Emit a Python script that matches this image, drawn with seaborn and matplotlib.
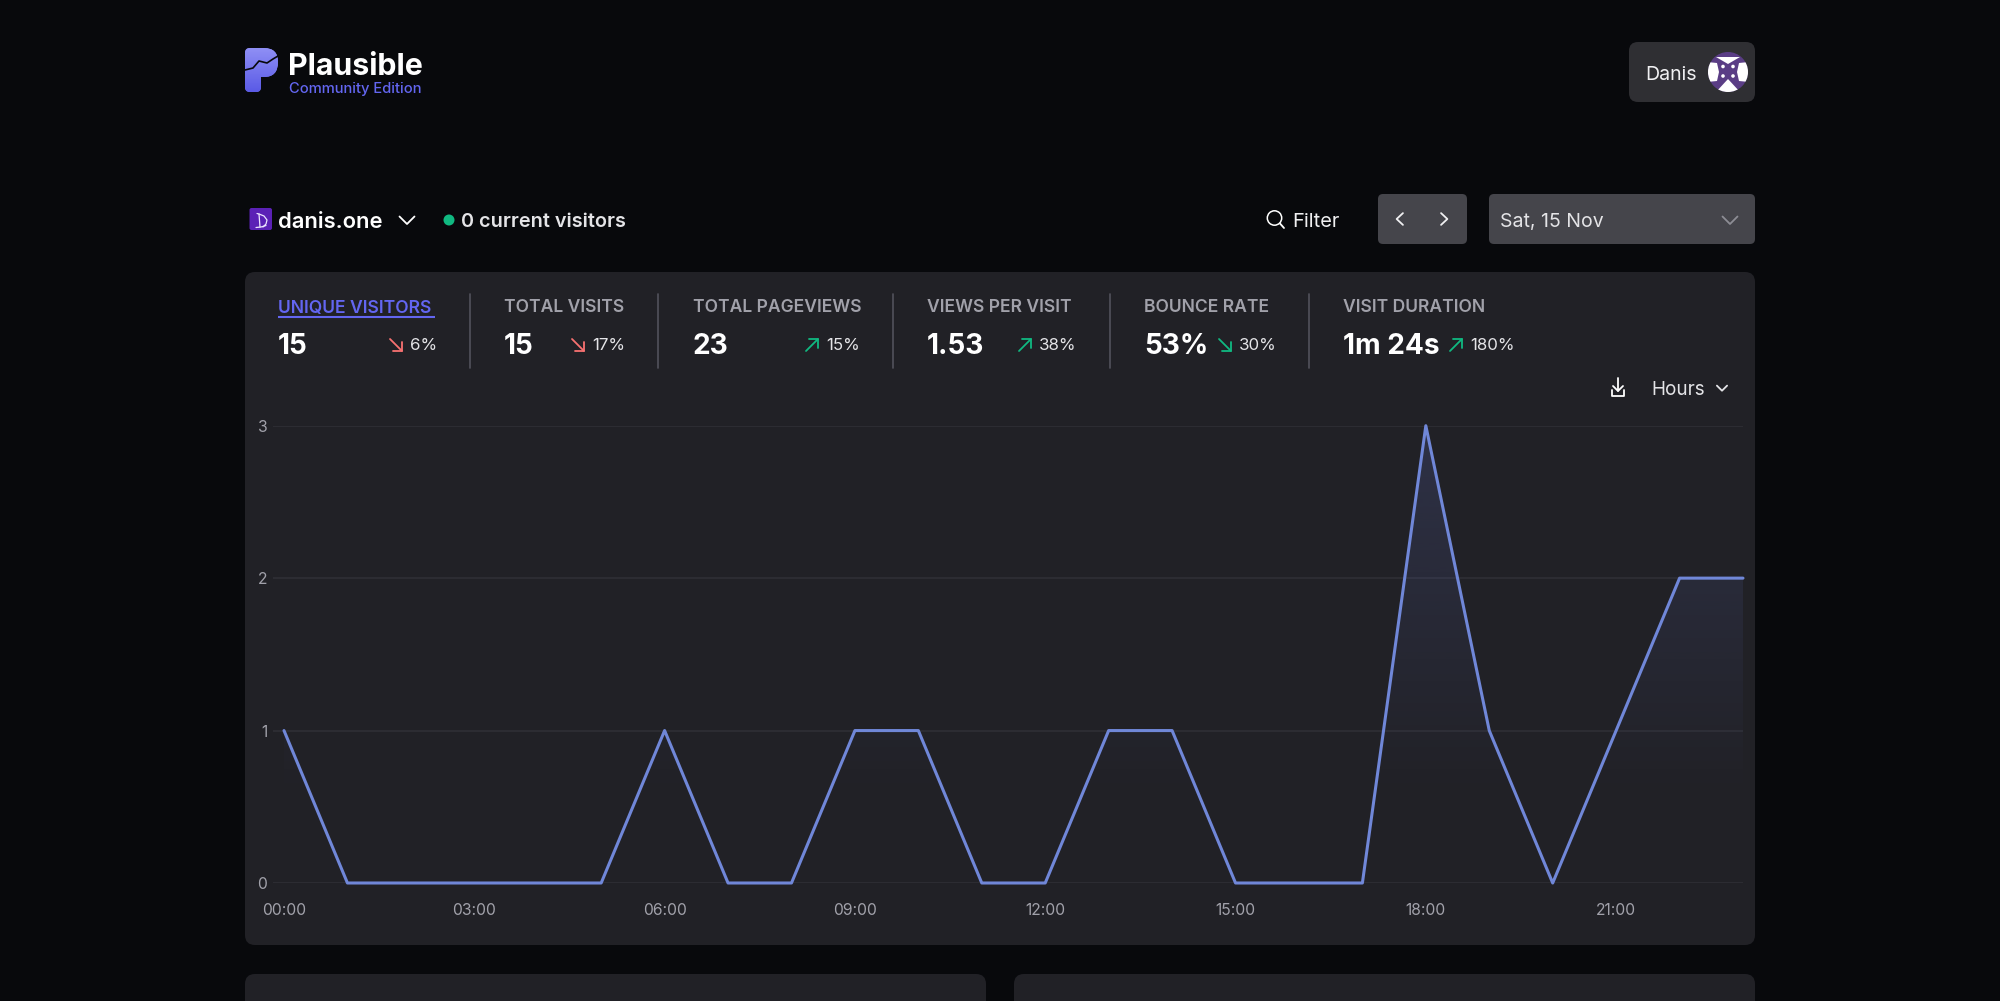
import matplotlib

matplotlib.use("Agg")
import matplotlib.pyplot as plt
import numpy as np
import pandas as pd
import seaborn as sns
from matplotlib.patches import Circle, FancyBboxPatch, PathPatch, Polygon
from matplotlib.path import Path

# chart values
hours = list(range(24))
visitors = [1, 0, 0, 0, 0, 0, 1, 0, 0, 1, 1, 0, 0, 1, 1, 0, 0, 0, 3, 1, 0, 1, 2, 2]
tick_hours = [0, 3, 6, 9, 12, 15, 18, 21]
tick_labels = ["00:00", "03:00", "06:00", "09:00", "12:00", "15:00", "18:00", "21:00"]
y_ticks = [0, 1, 2, 3]

# top stats row
stat_names = ["UNIQUE VISITORS", "TOTAL VISITS", "TOTAL PAGEVIEWS", "VIEWS PER VISIT", "BOUNCE RATE", "VISIT DURATION"]
stat_values = ["15", "15", "23", "1.53", "53%", "1m 24s"]
stat_changes = ["6%", "17%", "15%", "38%", "30%", "180%"]
stat_up = [False, False, True, True, False, True]
stat_good = [False, False, True, True, True, True]
stat_x = [278, 504, 693, 927, 1144, 1343]
stat_pct_x = [410, 592, 826, 1039, 1239, 1470]
dividers = [469.5, 658, 893, 1109.5, 1309]

BG = "#08090c"
PANEL = "#212126"
BOX = "#45454b"
LINE = "#7087d8"
GRID = "#303036"
GREY = "#a1a1aa"
INDIGO = "#6366f1"
GREEN = "#10b981"
RED = "#f87171"

sns.set_theme(style="dark")
plt.rcParams["font.family"] = ["Inter", "DejaVu Sans"]

fig = plt.figure(figsize=(20, 10.01), dpi=100, facecolor=BG)

# page layer in pixel coordinates
page = fig.add_axes([0, 0, 1, 1])
page.set_xlim(0, 2000)
page.set_ylim(1001, 0)
page.axis("off")


def box(x0, y0, x1, y1, color, r=8):
    page.add_patch(
        FancyBboxPatch(
            (x0 + r, y0 + r),
            x1 - x0 - 2 * r,
            y1 - y0 - 2 * r,
            boxstyle=f"round,pad={r},rounding_size={r}",
            fc=color,
            ec="none",
        )
    )


def label(x, y, s, size, color="white", weight="normal", ha="left"):
    page.text(x, y, s, fontsize=size, color=color, fontweight=weight, ha=ha, va="center_baseline")


def stroke(xs, ys, color="white", lw=1.3):
    page.plot(xs, ys, color=color, lw=lw, solid_capstyle="round", solid_joinstyle="round", zorder=6)


def chevron(x, y, direction, color="white", s=5, lw=1.3):
    if direction == "down":
        stroke([x - s * 1.5, x, x + s * 1.5], [y - s * 0.7, y + s * 0.8, y - s * 0.7], color, lw)
    elif direction == "left":
        stroke([x + s * 0.7, x - s * 0.8, x + s * 0.7], [y - s * 1.4, y, y + s * 1.4], color, lw)
    else:
        stroke([x - s * 0.7, x + s * 0.8, x - s * 0.7], [y - s * 1.4, y, y + s * 1.4], color, lw)


def arrow(x, y, up, color):
    # x, y is the centre of a small diagonal arrow
    s = 6
    if up:
        stroke([x - s, x + s], [y + s, y - s], color)
        stroke([x - s + 3, x + s, x + s], [y - s, y - s, y + s - 3], color)
    else:
        stroke([x - s, x + s], [y - s, y + s], color)
        stroke([x - s + 3, x + s, x + s], [y + s, y + s, y - s + 3], color)


# cards
box(245, 272, 1755, 945, PANEL, 10)
box(245, 974, 986, 1040, PANEL, 10)
box(1014, 974, 1755, 1040, PANEL, 10)

# logo
M, L, C = Path.MOVETO, Path.LINETO, Path.CURVE3
logo_path = Path(
    [(250, 48), (264, 48), (278, 48), (278, 62), (278, 77), (264, 77), (261, 77), (261, 87),
     (261, 92), (256, 92), (250, 92), (245, 92), (245, 87), (245, 53), (245, 48), (250, 48)],
    [M, L, C, C, C, C, L, L, C, C, L, C, C, L, C, C],
)
logo = PathPatch(logo_path, fc="#7c7cf2", ec="none")
page.add_patch(logo)
grad = np.linspace(0, 1, 64).reshape(-1, 1)
logo_im = page.imshow(
    grad, extent=(245, 279, 92, 48), aspect="auto", zorder=2,
    cmap=matplotlib.colors.LinearSegmentedColormap.from_list("logo", ["#8f8ff5", "#5a5ae6"]),
)
logo_im.set_clip_path(logo)
page.set_xlim(0, 2000)
page.set_ylim(1001, 0)
stroke([245, 253, 259, 267, 273, 278], [70, 68, 61, 63, 59, 56], BG, 1.2)
label(288, 64, "Plausible", 21.8, "white", "bold")
label(289, 87, "Community Edition", 10.6, INDIGO, "medium")

# user menu
box(1629, 42, 1755, 102, "#2f2f33", 9)
label(1645, 73, "Danis", 14.1, "#f0f0f2")
avatar = Circle((1728, 72), 20, fc="#5a3d85", ec="none", zorder=3)
page.add_patch(avatar)
for pts in [
    [(1716, 57), (1728, 57), (1728, 64)], [(1740, 57), (1728, 57), (1728, 64)],
    [(1707, 62), (1717, 63), (1719, 72), (1717, 81), (1707, 82)],
    [(1749, 62), (1739, 63), (1737, 72), (1739, 81), (1749, 82)],
    [(1716, 92), (1728, 79), (1740, 92)],
]:
    tri = Polygon(pts, closed=True, fc="white", ec="none", zorder=4)
    page.add_patch(tri)
    tri.set_clip_path(avatar)
for dx, dy in [(-5, -5.5), (5, -5.5), (-5, 4), (5, 4)]:
    page.add_patch(Circle((1728 + dx, 72 + dy), 1.8, fc="white", ec="none", zorder=5))

# site row
box(249.5, 208, 272, 230, "#5b21b6", 2)
stroke([257, 259, 260], [213.5, 214, 227], "#ece4ff", 0.9)
stroke([259, 264, 267, 266, 263], [214, 216, 220, 224, 227], "#ece4ff", 0.9)
stroke([256, 261, 266], [227.5, 227, 225.5], "#ece4ff", 0.9)
label(278, 220, "danis.one", 15.8, "white", "semibold")
chevron(407, 220, "down", "white", 5)
page.add_patch(Circle((449, 220), 5.5, fc=GREEN, ec="none"))
label(461, 220, "0 current visitors", 14.3, "#e4e4e7", "semibold")

page.add_patch(Circle((1274.5, 218), 7.2, fc="none", ec="white", lw=1.1))
stroke([1280, 1284], [223.5, 228])
label(1292, 220, "Filter", 14.4, "#f0f0f2")
box(1378, 194, 1467, 244, BOX, 5)
chevron(1400, 219, "left", "#f0f0f2", 4.2)
chevron(1444, 219, "right", "#f0f0f2", 4.2)
box(1489, 194, 1755, 244, BOX, 5)
label(1500, 220, "Sat, 15 Nov", 14, "#e4e4e7")
chevron(1730, 220, "down", "#8d8d95", 5)

# stats
for i, name in enumerate(stat_names):
    x = stat_x[i]
    label(x, 306, name, 12.6, INDIGO if i == 0 else GREY, "semibold")
    label(x, 344, stat_values[i], 20.2, "white", "bold")
    arrow(stat_pct_x[i] - 14, 345, stat_up[i], GREEN if stat_good[i] else RED)
    label(stat_pct_x[i], 344, stat_changes[i], 12.2, "#e4e4e7")
page.plot([278, 435], [317, 317], color=INDIGO, lw=1.5, solid_capstyle="butt")
for x in dividers:
    page.plot([x, x], [294, 368], color="#52525b", lw=1.2)

# download icon and interval selector
stroke([1618, 1618], [378, 391])
stroke([1613, 1618, 1623], [386, 391, 386])
stroke([1612, 1612, 1624, 1624], [390, 396, 396, 390])
label(1651, 388, "Hours", 13.6, "#e4e4e7")
chevron(1722, 388, "down", "#e4e4e7", 3.4)

# chart itself, axes placed so 00:00 falls at x=284 and 0..3 spans y=883..426
left, right, top, bottom = 273, 1743, 425.7, 883
ax = fig.add_axes([left / 2000, 1 - bottom / 1001, (right - left) / 2000, (bottom - top) / 1001])
ax.patch.set_alpha(0)
df = pd.DataFrame({"hour": hours, "visitors": visitors})

# gradient under the line, fades out well above the baseline
rgba = np.zeros((128, 1, 4))
rgba[..., :3] = matplotlib.colors.to_rgb("#6574cd")
rgba[..., 3] = np.linspace(0.2, 0, 128).reshape(-1, 1)
area = ax.fill_between(df["hour"], 0, df["visitors"], color="none", lw=0)
im = ax.imshow(rgba, extent=(0, 23, 0.55, 3), aspect="auto", origin="upper", zorder=1)
im.set_clip_path(area.get_paths()[0], transform=ax.transData)

sns.lineplot(data=df, x="hour", y="visitors", color=LINE, linewidth=2.2, ax=ax, zorder=3, clip_on=False)
ax.set_xlim(-11 / ((right - 284) / 23), 23)
ax.set_ylim(0, 3)
ax.set_xticks(tick_hours, tick_labels)
ax.set_yticks(y_ticks)
ax.set_xlabel("")
ax.set_ylabel("")
ax.tick_params(axis="x", length=0, pad=14.6, labelsize=11.3, labelcolor=GREY)
ax.tick_params(axis="y", length=0, pad=4, labelsize=11.3, labelcolor=GREY)
ax.grid(False)
ax.yaxis.grid(True, color=GRID, lw=1.1)
ax.set_axisbelow(True)
for spine in ax.spines.values():
    spine.set_visible(False)

fig.savefig("out.png", dpi=100, facecolor=BG)
